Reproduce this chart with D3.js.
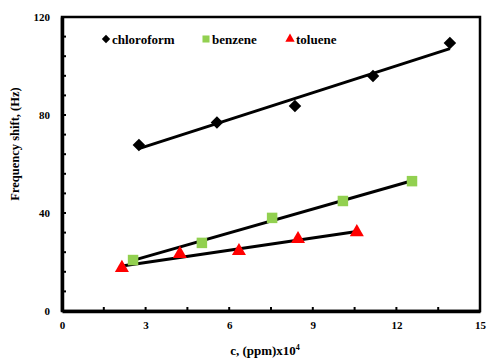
<!DOCTYPE html>
<html>
<head>
<meta charset="utf-8">
<script src="https://cdn.jsdelivr.net/npm/d3@7"></script>
<style>
  body { margin: 0; background: #fff; }
  #chart { width: 489px; height: 359px; }
  text { font-family: "Liberation Serif", "DejaVu Serif", serif; font-weight: bold; }
</style>
</head>
<body>
<div id="chart"></div>
<script>
// data
const chloroformX = [2.76, 5.56, 8.36, 11.16, 13.92];
const chloroformY = [67.8, 76.9, 83.7, 95.9, 109.4];
const benzeneX = [2.55, 5.02, 7.54, 10.08, 12.56];
const benzeneY = [20.8, 27.8, 38.0, 44.9, 53.0];
const tolueneX = [2.15, 4.23, 6.35, 8.47, 10.58];
const tolueneY = [17.6, 23.3, 24.5, 29.4, 32.2];
const xTickLabels = [0, 3, 6, 9, 12, 15];
const yTickLabels = [0, 40, 80, 120];
const seriesNames = ['chloroform', 'benzene', 'toluene'];

const W = 489, H = 359;
const m = { top: 17, right: 9, bottom: 48, left: 62 };
const w = W - m.left - m.right, h = H - m.top - m.bottom;

const svg = d3.select('#chart').append('svg').attr('width', W).attr('height', H);
const g = svg.append('g').attr('transform', `translate(${m.left},${m.top})`);

const x = d3.scaleLinear().domain([0, 15]).range([0, w]);
const y = d3.scaleLinear().domain([0, 120]).range([h, 0]);

const series = [
  { name: seriesNames[0], xs: chloroformX, ys: chloroformY, color: '#000', shape: d3.symbolDiamond2, size: 100 },
  { name: seriesNames[1], xs: benzeneX, ys: benzeneY, color: '#92D050', shape: d3.symbolSquare, size: 110 },
  { name: seriesNames[2], xs: tolueneX, ys: tolueneY, color: '#FF0000', shape: d3.symbolTriangle, size: 85 }
];

// frame
g.append('rect').attr('x', 0).attr('y', 0).attr('width', w).attr('height', h)
  .attr('fill', 'none').attr('stroke', '#000').attr('stroke-width', 2.5);

// minor ticks (inside)
const xMinor = d3.range(0, 15.01, 1.5);
g.selectAll('.xt').data(xMinor).join('line')
  .attr('x1', d => x(d)).attr('x2', d => x(d)).attr('y1', h).attr('y2', h - 4)
  .attr('stroke', '#000').attr('stroke-width', 2);
const yMinor = d3.range(0, 120.01, 8);
g.selectAll('.yt').data(yMinor).join('line')
  .attr('y1', d => y(d)).attr('y2', d => y(d)).attr('x1', 0).attr('x2', 4)
  .attr('stroke', '#000').attr('stroke-width', 2);

// axes (labels only, thick lines)
g.append('g').attr('transform', `translate(0,${h})`)
  .call(d3.axisBottom(x).tickValues(xTickLabels).tickSize(0).tickPadding(10).tickFormat(d3.format('d')))
  .call(a => a.select('.domain').attr('stroke', '#000').attr('stroke-width', 3.5))
  .selectAll('text').style('font-size', '11px').attr('fill', '#000')
  .style('font-family', '"Liberation Serif", serif').style('font-weight', 'bold');

g.append('g')
  .call(d3.axisLeft(y).tickValues(yTickLabels).tickSize(0).tickPadding(12))
  .call(a => a.select('.domain').attr('stroke', '#000').attr('stroke-width', 3.5))
  .selectAll('text').style('font-size', '11px').attr('fill', '#000')
  .style('font-family', '"Liberation Serif", serif').style('font-weight', 'bold');

// axis titles
svg.append('text').attr('transform', 'rotate(-90)')
  .attr('x', -144).attr('y', 19).attr('text-anchor', 'middle')
  .attr('font-size', '12.5px').text('Frequency shift, (Hz)');
svg.append('text').attr('x', 265).attr('y', H - 4).attr('text-anchor', 'middle')
  .attr('font-size', '13px').html('c, (ppm)x10<tspan dy="-5" font-size="8px">4</tspan>');

// least-squares trend lines
function fit(xs, ys) {
  const mx = d3.mean(xs), my = d3.mean(ys);
  const b = d3.sum(xs, (v, i) => (v - mx) * (ys[i] - my)) / d3.sum(xs, v => (v - mx) ** 2);
  return v => my + b * (v - mx);
}
series.forEach(s => {
  const f = fit(s.xs, s.ys);
  const x0 = d3.min(s.xs), x1 = d3.max(s.xs);
  g.append('line')
    .attr('x1', x(x0)).attr('y1', y(f(x0))).attr('x2', x(x1)).attr('y2', y(f(x1)))
    .attr('stroke', '#000').attr('stroke-width', 3);
});

// markers
series.forEach(s => {
  g.selectAll(null).data(s.xs.map((v, i) => [v, s.ys[i]])).join('path')
    .attr('d', d3.symbol().type(s.shape).size(s.size))
    .attr('transform', d => `translate(${x(d[0])},${y(d[1])})`)
    .attr('fill', s.color);
});

// legend
const legX = [106, 206, 290];
series.forEach((s, i) => {
  const lg = svg.append('g').attr('transform', `translate(${legX[i]},39)`);
  lg.append('path').attr('d', d3.symbol().type(s.shape).size(s.size * 0.45)).attr('fill', s.color);
  lg.append('text').attr('x', 6).attr('y', 4.5).attr('font-size', '13px').text(s.name);
});
</script>
</body>
</html>
